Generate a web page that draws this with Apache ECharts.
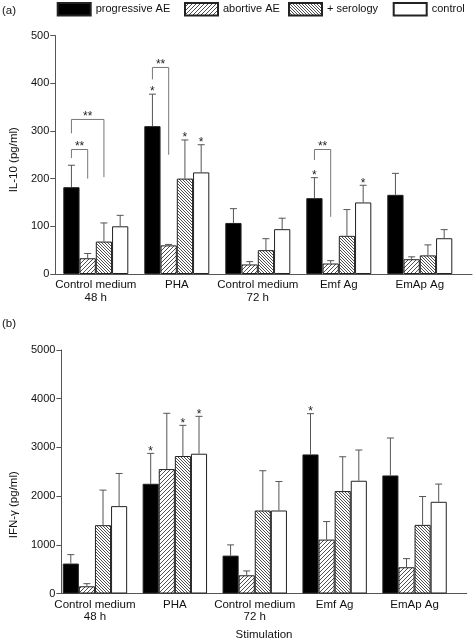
<!DOCTYPE html>
<html>
<head>
<meta charset="utf-8">
<script src="https://cdn.jsdelivr.net/npm/echarts@6/dist/echarts.min.js"></script>
<style>
html,body{margin:0;padding:0;background:#fff;}
#chart{width:476px;height:643px;}
</style>
</head>
<body>
<div id="chart"></div>
<script>
// ---------- data ----------
const categories = ['Control medium\n48 h', 'PHA', 'Control medium\n72 h', 'Emf Ag', 'EmAp Ag'];
const seriesNames = ['progressive AE', 'abortive AE', '+ serology', 'control'];

// (a) IL-10 (pg/ml): means and mean+SD (error bar tops)
const il10Progressive = [182, 310, 107, 159, 166];
const il10Abortive    = [33, 60, 20, 22, 31];
const il10Serology    = [68, 200, 50, 80, 39];
const il10Control     = [100, 213, 94, 150, 75];
const il10ProgressiveErr = [228, 377, 137, 202, 211];
const il10AbortiveErr    = [43, 62, 26, 28, 36];
const il10SerologyErr    = [107, 281, 74, 135, 61];
const il10ControlErr     = [123, 271, 117, 186, 93];

// (b) IFN-γ (pg/ml)
const ifnProgressive = [615, 2253, 778, 2856, 2424];
const ifnAbortive    = [148, 2555, 374, 1107, 539];
const ifnSerology    = [1403, 2823, 1704, 2103, 1409];
const ifnControl     = [1794, 2870, 1704, 2315, 1883];
const ifnProgressiveErr = [798, 2877, 998, 3693, 3193];
const ifnAbortiveErr    = [202, 3700, 463, 1477, 716];
const ifnSerologyErr    = [2123, 3453, 2521, 2808, 1992];
const ifnControlErr     = [2465, 3638, 2300, 2946, 2247];

// axis ticks
const il10Ticks = [0, 100, 200, 300, 400, 500];
const ifnTicks = [0, 1000, 2000, 3000, 4000, 5000];

// significance: single stars [category, series]
const il10Stars = [[1, 0], [1, 2], [1, 3], [3, 0], [3, 3]];
const ifnStars  = [[1, 0], [1, 2], [1, 3], [3, 0]];
// brackets "**": [category, leftSeries, rightSeries, topValue, leftLegBottom, rightLegBottom]
const il10Brackets = [
  [0, 0, 1, 261, 243, 200],
  [0, 0, 2, 324, 295, 203],
  [1, 0, 1, 433, 408, 250],
  [3, 0, 1, 261, 239, 120]
];

// ---------- styling ----------
const FONT = 'Liberation Sans, Arial, Helvetica, sans-serif';
const AXIS = '#555';
const BW_A = 16.25, BW_B = 16.1;

function hatch(dir, period) {
  const c = document.createElement('canvas');
  c.width = period; c.height = period;
  const ctx = c.getContext('2d');
  ctx.fillStyle = '#fff';
  ctx.fillRect(0, 0, period, period);
  ctx.strokeStyle = '#222';
  ctx.lineWidth = 0.8;
  ctx.beginPath();
  for (let k = -1; k <= 1; k++) {
    if (dir === '/') { ctx.moveTo(k * period, period); ctx.lineTo(k * period + period, 0); }
    else { ctx.moveTo(k * period, 0); ctx.lineTo(k * period + period, period); }
  }
  ctx.stroke();
  return c;
}
const fills = [
  '#000',
  { image: hatch('/', 4), repeat: 'repeat' },
  { image: hatch('\\', 3), repeat: 'repeat' },
  '#fff'
];

const meansA = [il10Progressive, il10Abortive, il10Serology, il10Control];
const errsA  = [il10ProgressiveErr, il10AbortiveErr, il10SerologyErr, il10ControlErr];
const meansB = [ifnProgressive, ifnAbortive, ifnSerology, ifnControl];
const errsB  = [ifnProgressiveErr, ifnAbortiveErr, ifnSerologyErr, ifnControlErr];

function errData(means, errs) {
  const out = [];
  means.forEach((arr, s) => arr.forEach((m, c) => out.push([c, s, m, errs[s][c]])));
  return out;
}
function starData(list, errs) {
  return list.map(([c, s]) => [c, s, errs[s][c]]);
}

function errRender(bw) {
  return function (params, api) {
    const c = api.value(0), s = api.value(1);
    const base = api.coord([c, api.value(2)]);
    const top = api.coord([c, api.value(3)]);
    const x = base[0] + (s - 1.5) * bw;
    const st = { stroke: AXIS, lineWidth: 1 };
    return { type: 'group', children: [
      { type: 'line', shape: { x1: x, y1: base[1], x2: x, y2: top[1] }, style: st },
      { type: 'line', shape: { x1: x - 3.5, y1: top[1], x2: x + 3.5, y2: top[1] }, style: st }
    ]};
  };
}
function starRender(bw) {
  return function (params, api) {
    const c = api.value(0), s = api.value(1);
    const p = api.coord([c, api.value(2)]);
    const x = p[0] + (s - 1.5) * bw;
    return { type: 'text', style: { text: '*', x: x, y: p[1] - 2, align: 'center', verticalAlign: 'middle', font: '12px ' + FONT, fill: '#222' } };
  };
}
function bracketRender(bw) {
  return function (params, api) {
    const c = api.value(0), sl = api.value(1), sr = api.value(2);
    const t = api.coord([c, api.value(3)]);
    const lb = api.coord([c, api.value(4)]);
    const rb = api.coord([c, api.value(5)]);
    const xl = t[0] + (sl - 1.5) * bw, xr = t[0] + (sr - 1.5) * bw;
    return { type: 'group', children: [
      { type: 'polyline', shape: { points: [[xl, lb[1]], [xl, t[1]], [xr, t[1]], [xr, rb[1]]] }, style: { stroke: '#777', lineWidth: 1, fill: null } },
      { type: 'text', style: { text: '**', x: (xl + xr) / 2, y: t[1] - 3, align: 'center', verticalAlign: 'middle', font: '12px ' + FONT, fill: '#222' } }
    ]};
  };
}

const grids = [
  { left: 48, right: 4, top: 35.5, bottom: 369 },      // (a) frame
  { left: 55.3, right: 15.7, top: 35.5, bottom: 369 }, // (a) data
  { left: 48, right: 9.3, top: 350, bottom: 49.5 },    // (b) frame
  { left: 55, right: 21.5, top: 350, bottom: 49.5 }    // (b) data
];

function frameX(gi, name) {
  return {
    type: 'value', gridIndex: gi, min: 0, max: 1,
    axisLine: { show: true, lineStyle: { color: AXIS, width: 1 } },
    axisTick: { show: false }, axisLabel: { show: false }, splitLine: { show: false },
    name: name || '', nameLocation: 'middle', nameGap: 35,
    nameTextStyle: { fontFamily: FONT, fontSize: 11.5, color: '#111' }
  };
}
function catX(gi) {
  return {
    type: 'category', gridIndex: gi, data: categories,
    axisLine: { show: false }, axisTick: { show: false },
    axisLabel: { margin: 5, fontFamily: FONT, fontSize: 11.5, color: '#111', lineHeight: 12.5, interval: 0 }
  };
}
function frameY(gi, max, interval, name, pad) {
  return {
    type: 'value', gridIndex: gi, min: 0, max: max, interval: interval,
    axisLine: { show: true, lineStyle: { color: AXIS, width: 1 } },
    axisTick: { show: true, inside: false, length: 5, lineStyle: { color: AXIS } },
    axisLabel: { margin: 6, fontFamily: FONT, fontSize: 11, color: '#111', formatter: v => String(v) },
    splitLine: { show: false },
    name: name, nameLocation: 'middle', nameGap: 34,
    nameTextStyle: { fontFamily: FONT, fontSize: 11.5, color: '#111', padding: pad }
  };
}
function hiddenY(gi, max) {
  return { type: 'value', gridIndex: gi, min: 0, max: max, show: false };
}

const series = [];
meansA.forEach((arr, s) => series.push({
  type: 'bar', name: seriesNames[s], xAxisIndex: 1, yAxisIndex: 1, data: arr,
  barWidth: BW_A, barGap: '0%',
  itemStyle: { color: fills[s], borderColor: '#222', borderWidth: 1 },
  emphasis: { disabled: true }, animation: false
}));
meansB.forEach((arr, s) => series.push({
  type: 'bar', name: seriesNames[s], xAxisIndex: 3, yAxisIndex: 3, data: arr,
  barWidth: BW_B, barGap: '0%',
  itemStyle: { color: fills[s], borderColor: '#222', borderWidth: 1 },
  emphasis: { disabled: true }, animation: false
}));
series.push({ type: 'custom', xAxisIndex: 1, yAxisIndex: 1, data: errData(meansA, errsA), renderItem: errRender(BW_A), z: 5, silent: true, animation: false });
series.push({ type: 'custom', xAxisIndex: 3, yAxisIndex: 3, data: errData(meansB, errsB), renderItem: errRender(BW_B), z: 5, silent: true, animation: false });
series.push({ type: 'custom', xAxisIndex: 1, yAxisIndex: 1, data: starData(il10Stars, errsA), renderItem: starRender(BW_A), z: 6, silent: true, animation: false });
series.push({ type: 'custom', xAxisIndex: 3, yAxisIndex: 3, data: starData(ifnStars, errsB), renderItem: starRender(BW_B), z: 6, silent: true, animation: false });
series.push({ type: 'custom', xAxisIndex: 1, yAxisIndex: 1, data: il10Brackets, renderItem: bracketRender(BW_A), z: 6, silent: true, animation: false });

const legendLefts = [56.7, 184, 288, 392.7];
const legends = seriesNames.map((n, i) => ({
  data: [n], left: legendLefts[i], top: 2, padding: 0,
  itemWidth: 33, itemHeight: 12.5, icon: 'rect', selectedMode: false,
  textStyle: { fontFamily: FONT, fontSize: 11, color: '#111' }
}));

const chart = echarts.init(document.getElementById('chart'), null, { renderer: 'canvas' });
chart.setOption({
  animation: false,
  backgroundColor: '#fff',
  textStyle: { fontFamily: FONT },
  legend: legends,
  grid: grids,
  xAxis: [frameX(0), catX(1), frameX(2, 'Stimulation'), catX(3)],
  yAxis: [
    frameY(0, il10Ticks[il10Ticks.length - 1], il10Ticks[1] - il10Ticks[0], 'IL-10 (pg/ml)', [0, 10, 0, 0]),
    hiddenY(1, il10Ticks[il10Ticks.length - 1]),
    frameY(2, ifnTicks[ifnTicks.length - 1], ifnTicks[1] - ifnTicks[0], 'IFN-γ (pg/ml)', [0, 66, 0, 0]),
    hiddenY(3, ifnTicks[ifnTicks.length - 1])
  ],
  graphic: [
    { type: 'text', left: 2, top: 5, style: { text: '(a)', font: '11.5px ' + FONT, fill: '#111' } },
    { type: 'text', left: 2, top: 318, style: { text: '(b)', font: '11.5px ' + FONT, fill: '#111' } }
  ],
  series: series
});
</script>
</body>
</html>
